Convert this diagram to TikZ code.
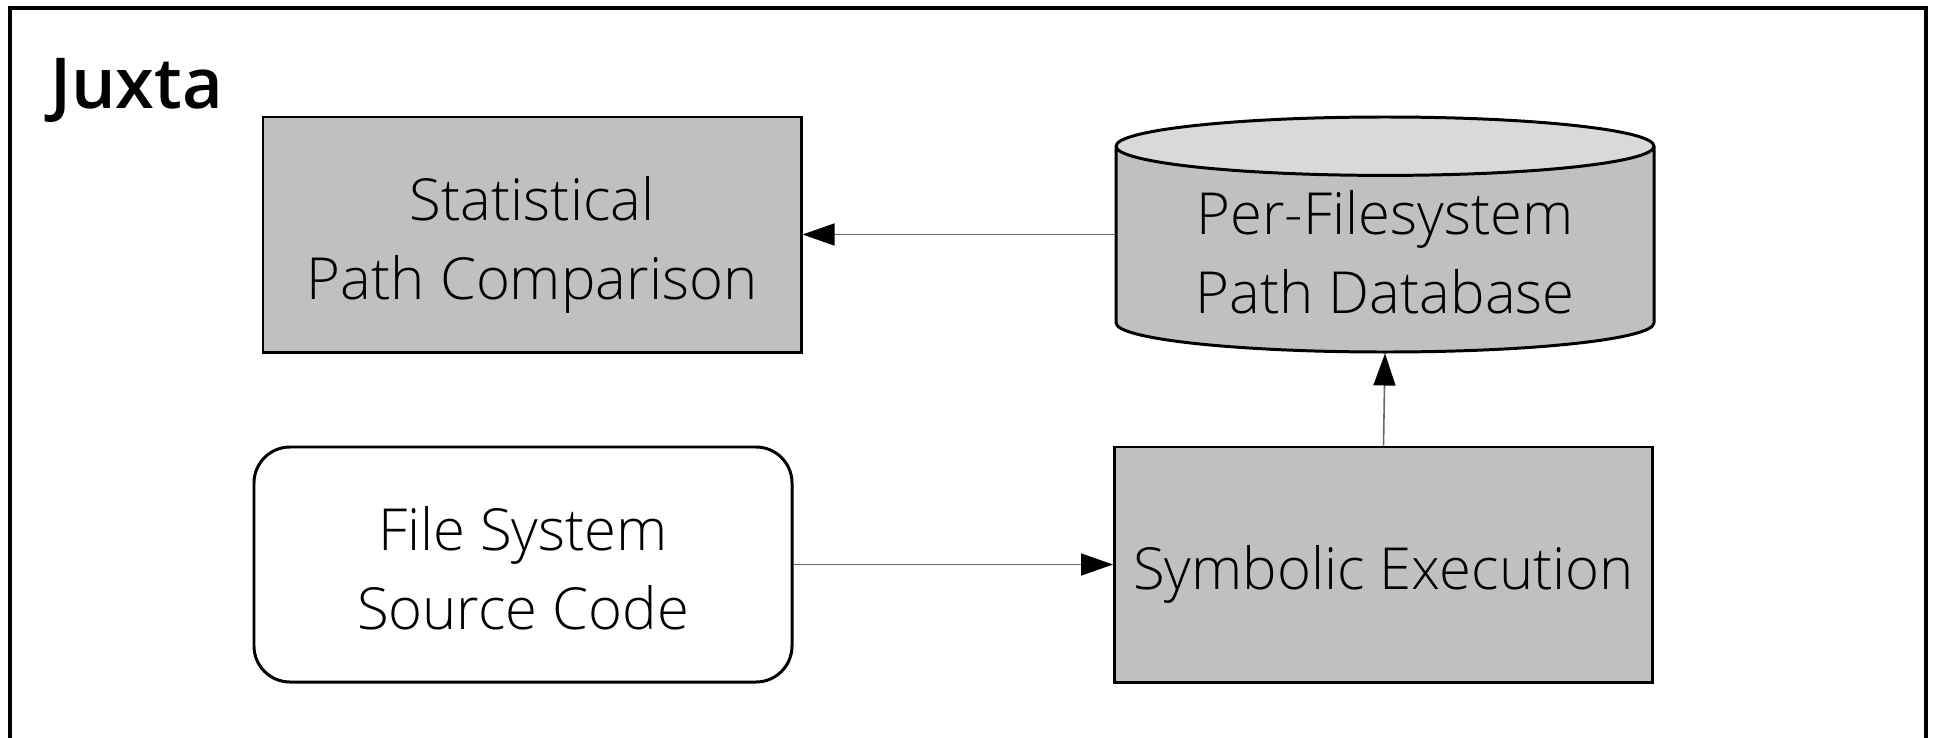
\documentclass[tikz,border=0pt]{standalone}
\usepackage{fontspec}
\setmainfont{Open Sans Light}[BoldFont={Open Sans Semibold}]
\usetikzlibrary{arrows.meta,positioning,shapes.geometric}

\definecolor{boxgray}{HTML}{C0C0C0}
\definecolor{capgray}{HTML}{D9D9D9}

\begin{document}
\begin{tikzpicture}[
    x=0.2mm, y=-0.2mm,
    every node/.style={font=\fontsize{33}{45}\selectfont, align=center, text height=37pt, text depth=8pt},
    twoline/.style={text height=82pt},
    block/.style={rectangle, draw, line width=1.7pt, minimum width=10.76cm, minimum height=4.7cm, inner sep=0pt},
    store/.style={cylinder, shape border rotate=90, draw, line width=1.7pt, aspect=0.154,
        cylinder uses custom fill, cylinder body fill=boxgray, cylinder end fill=capgray,
        minimum width=10.76cm, minimum height=4.7cm, inner sep=0pt, text height=72pt, text depth=0pt},
    flow/.style={draw=black!60, line width=0.9pt, -{Triangle[length=0.64cm, width=0.44cm, color=black]}},
]
    \useasboundingbox (0,0) rectangle (1937,737);
    \clip (0,0) rectangle (1937,737);
    % outer frame, runs off the bottom edge
    \draw[line width=2.3pt] (10,8) rectangle (1926,790);
    \node[font=\fontsize{40}{48}\selectfont\bfseries, anchor=base west] (title) at (44,108) {Juxta};

    % top row
    \node[block, twoline, fill=boxgray] (stat) at (532,234.5) {Statistical\\Path Comparison};
    \node[store, anchor=shape center] (db) at (1385,234.5) {Per-Filesystem\\Path Database};

    % bottom row
    \node[block, twoline, rounded corners=0.72cm] (src) at (523,564.5) {File System\\Source Code};
    \node[block, fill=boxgray] (symex) at (1383.5,564.5) {Symbolic Execution};

    \draw[flow] (db.west |- stat.east) -- (stat.east);
    \draw[flow] (src.east) -- (symex.west);
    \draw[flow] (symex.north) -- (db.south);
\end{tikzpicture}
\end{document}
